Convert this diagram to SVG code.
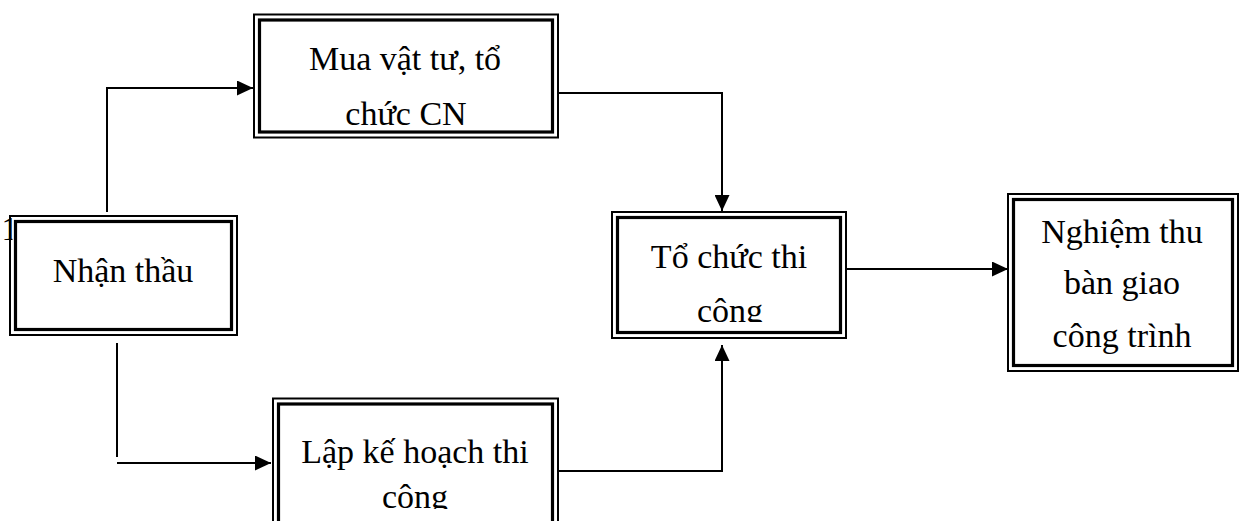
<svg xmlns="http://www.w3.org/2000/svg" width="1240" height="521" viewBox="0 0 1240 521">
<style>
.outer{fill:#fff;stroke:#000;stroke-width:2}
.inner{fill:none;stroke:#000;stroke-width:3.2}
.t{font-family:"Liberation Serif","Times New Roman",serif;font-size:34px;fill:#000;text-anchor:middle}
.c{fill:none;stroke:#000;stroke-width:2}
</style>
<defs>
<marker id="ah" markerUnits="userSpaceOnUse" markerWidth="17" markerHeight="15" refX="16" refY="7.5" orient="auto">
<path d="M0,0 L16,7.5 L0,15 Z" fill="#000"/>
</marker>
<clipPath id="clipTo"><rect x="612" y="212" width="235" height="110"/></clipPath>
<clipPath id="clipLap"><rect x="273" y="398" width="286" height="111"/></clipPath>
<clipPath id="clipMark"><rect x="0" y="210" width="12.5" height="40"/></clipPath>
</defs>
<g id="connectors">
<path class="c" d="M107,212 V88 H253" marker-end="url(#ah)"/>
<path class="c" d="M558,93 H722 V211" marker-end="url(#ah)"/>
<path class="c" d="M117,343 V457"/>
<path class="c" d="M117,463 H271" marker-end="url(#ah)"/>
<path class="c" d="M558,471 H722 V345" marker-end="url(#ah)"/>
<path class="c" d="M846,269 H1008" marker-end="url(#ah)"/>
</g>
<g id="nhan-thau">
<rect class="outer" x="10" y="216" width="227" height="119"/>
<rect class="inner" x="15.5" y="221.5" width="216" height="108"/>
<text class="t" x="123" y="282">Nhận thầu</text>
</g>
<text x="1.5" y="240" class="t" clip-path="url(#clipMark)" style="text-anchor:start;font-size:33px">1</text>
<g id="mua-vat-tu">
<rect class="outer" x="254" y="14.5" width="304" height="123"/>
<rect class="inner" x="259.5" y="20" width="293" height="112"/>
<text class="t" x="405" y="70">Mua vật tư, tổ</text>
<text class="t" x="406" y="125">chức CN</text>
</g>
<g id="to-chuc-thi-cong">
<rect class="outer" x="612" y="212" width="234" height="126"/>
<rect class="inner" x="617.5" y="217.5" width="223" height="115"/>
<g clip-path="url(#clipTo)">
<text class="t" x="729" y="268">Tổ chức thi</text>
<text class="t" x="730" y="322">công</text>
</g>
</g>
<g id="lap-ke-hoach">
<rect class="outer" x="273" y="398.5" width="285" height="140"/>
<rect class="inner" x="278.5" y="404" width="274" height="130"/>
<g clip-path="url(#clipLap)">
<text class="t" x="415" y="463">Lập kế hoạch thi</text>
<text class="t" x="415" y="508">công</text>
</g>
</g>
<g id="nghiem-thu">
<rect class="outer" x="1008" y="194" width="230" height="177"/>
<rect class="inner" x="1013.5" y="199.5" width="219" height="166"/>
<text class="t" x="1122" y="243">Nghiệm thu</text>
<text class="t" x="1122" y="294">bàn giao</text>
<text class="t" x="1122" y="347">công trình</text>
</g>
</svg>
